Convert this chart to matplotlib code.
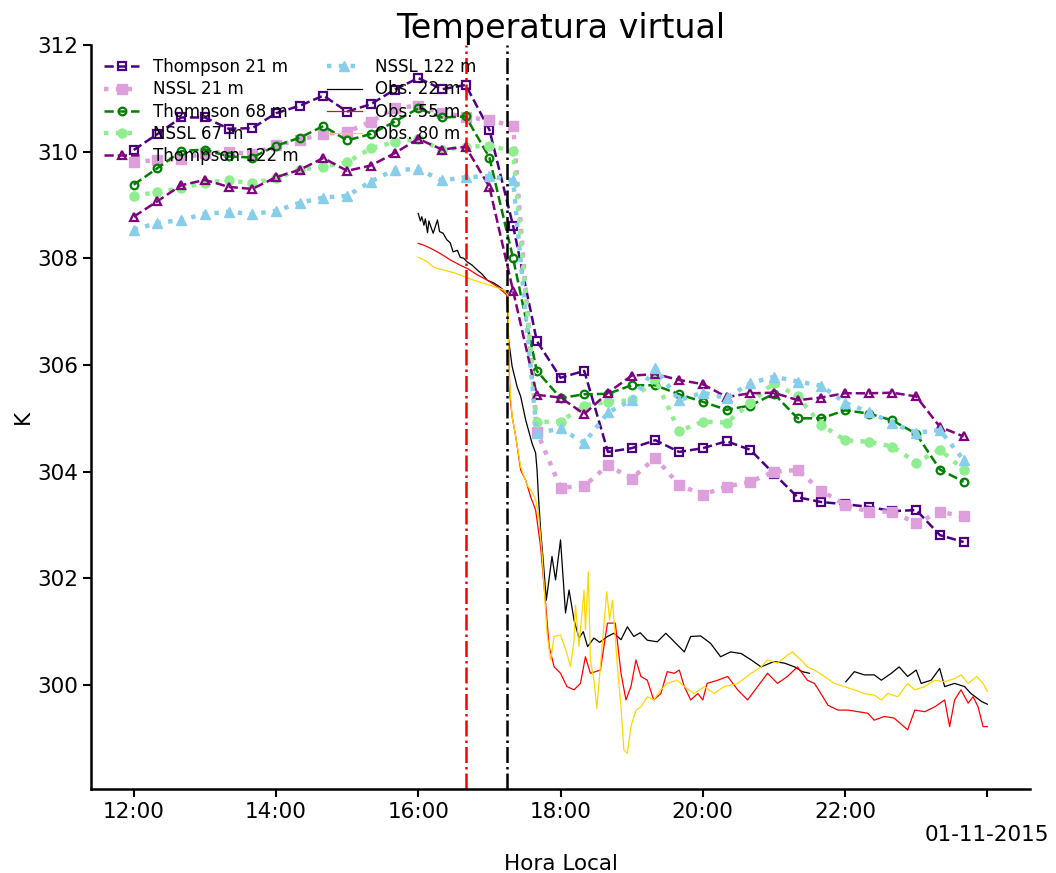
import matplotlib
matplotlib.use("Agg")
import matplotlib.pyplot as plt
import numpy as np

# ---- model output times (hours, local) : every 20 min from 12:00 to 23:40
model_times = ["12:00", "12:20", "12:40", "13:00", "13:20", "13:40", "14:00", "14:20", "14:40",
               "15:00", "15:20", "15:40", "16:00", "16:20", "16:40", "17:00", "17:20", "17:40",
               "18:00", "18:20", "18:40", "19:00", "19:20", "19:40", "20:00", "20:20", "20:40",
               "21:00", "21:20", "21:40", "22:00", "22:20", "22:40", "23:00", "23:20", "23:40"]

thompson_21 = [310.03, 310.33, 310.64, 310.64, 310.43, 310.44, 310.72, 310.86, 311.05,
               310.75, 310.89, 311.16, 311.38, 311.17, 311.25, 310.41, 308.61, 306.45,
               305.76, 305.89, 304.37, 304.44, 304.59, 304.37, 304.44, 304.57, 304.41,
               303.96, 303.52, 303.43, 303.39, 303.34, 303.26, 303.28, 302.81, 302.68]
nssl_21 = [309.81, 309.84, 309.86, 309.98, 309.99, 309.96, 310.12, 310.22, 310.33,
           310.37, 310.56, 310.82, 310.86, 310.73, 310.65, 310.59, 310.48, 304.75,
           303.70, 303.73, 304.12, 303.87, 304.26, 303.75, 303.57, 303.72, 303.81,
           304.00, 304.03, 303.64, 303.38, 303.25, 303.25, 303.03, 303.25, 303.16]
thompson_68 = [309.38, 309.69, 310.01, 310.04, 309.91, 309.89, 310.11, 310.26, 310.48,
               310.21, 310.33, 310.56, 310.81, 310.64, 310.66, 309.89, 308.00, 305.89,
               305.38, 305.45, 305.46, 305.62, 305.62, 305.45, 305.31, 305.16, 305.24,
               305.46, 305.00, 305.00, 305.15, 305.09, 304.96, 304.71, 304.04, 303.81]
nssl_67 = [309.16, 309.25, 309.31, 309.42, 309.46, 309.41, 309.50, 309.66, 309.72,
           309.80, 310.06, 310.18, 310.24, 310.03, 310.09, 310.11, 310.01, 304.93,
           304.94, 305.24, 305.31, 305.34, 305.73, 304.76, 304.94, 304.92, 305.28,
           305.67, 305.41, 304.88, 304.59, 304.56, 304.47, 304.17, 304.41, 304.04]
thompson_122 = [308.78, 309.07, 309.37, 309.47, 309.34, 309.30, 309.52, 309.66, 309.88,
                309.64, 309.74, 309.97, 310.24, 310.04, 310.09, 309.34, 307.39, 305.44,
                305.39, 305.08, 305.48, 305.80, 305.83, 305.72, 305.64, 305.40, 305.47,
                305.48, 305.34, 305.39, 305.47, 305.47, 305.48, 305.41, 304.84, 304.66]
nssl_122 = [308.54, 308.66, 308.72, 308.83, 308.87, 308.83, 308.89, 309.04, 309.14,
            309.17, 309.44, 309.66, 309.67, 309.46, 309.52, 309.54, 309.46, 304.72,
            304.81, 304.54, 305.11, 305.34, 305.94, 305.34, 305.48, 305.38, 305.66,
            305.78, 305.69, 305.61, 305.29, 305.12, 304.91, 304.73, 304.78, 304.22]

# ---- observations (time in decimal hours, value in K); NaN = missing data
obs22_t = [16.00, 16.03, 16.05, 16.08, 16.10, 16.13, 16.15, 16.17, 16.21, 16.27, 16.30, 16.35,
           16.40, 16.45, 16.49, 16.55, 16.59, 16.64, 16.69, 16.75, 16.83, 16.90, 16.97, 17.06,
           17.15, 17.25, 17.27, 17.32, 17.39, 17.44, 17.51, 17.60, 17.65, 17.67, 17.69, 17.72,
           17.76, 17.80, 17.88, 17.93, 18.00, 18.07, 18.12, 18.19, 18.26, 18.32, 18.38, 18.47,
           18.55, 18.66, 18.75, 18.85, 18.94, 19.03, 19.12, 19.22, 19.36, 19.48, 19.60, 19.74,
           19.83, 19.97, 20.11, 20.25, 20.39, 20.54, 20.68, 20.82, 21.00, 21.15, 21.29, 21.40,
           21.50, 21.75, 22.01, 22.13, 22.27, 22.41, 22.51, 22.65, 22.76, 22.88, 23.00, 23.07,
           23.21, 23.33, 23.40, 23.54, 23.68, 23.77, 23.92, 24.00]
obs22_v = [308.84, 308.70, 308.78, 308.62, 308.74, 308.48, 308.70, 308.62, 308.47, 308.72, 308.50, 308.47,
           308.35, 308.29, 308.12, 308.15, 308.02, 308.00, 307.93, 307.88, 307.78, 307.70, 307.59, 307.54,
           307.46, 307.35, 306.47, 305.97, 305.59, 305.41, 304.97, 304.53, 304.35, 304.03, 303.53, 302.91,
           302.28, 301.59, 302.41, 301.97, 302.72, 301.35, 301.78, 301.22, 300.88, 301.00, 300.72, 300.88,
           300.80, 300.91, 300.97, 300.85, 301.09, 300.91, 300.98, 300.84, 300.81, 300.97, 300.81, 300.62,
           300.91, 300.92, 300.78, 300.53, 300.62, 300.59, 300.47, 300.34, 300.44, 300.41, 300.34, 300.25,
           300.22, np.nan, 300.06, 300.25, 300.19, 300.19, 300.09, 300.22, 300.34, 300.16, 300.28, 300.03,
           300.09, 300.31, 299.97, 300.03, 299.97, 299.84, 299.69, 299.64]

obs55_t = [16.00, 16.07, 16.17, 16.31, 16.45, 16.59, 16.69, 16.83, 16.97, 17.11, 17.25, 17.29,
           17.32, 17.37, 17.44, 17.51, 17.58, 17.65, 17.72, 17.79, 17.84, 17.91, 18.00, 18.09,
           18.19, 18.28, 18.35, 18.42, 18.56, 18.66, 18.77, 18.85, 18.92, 18.99, 19.06, 19.13,
           19.22, 19.31, 19.41, 19.50, 19.60, 19.67, 19.74, 19.83, 19.93, 20.00, 20.06, 20.21,
           20.35, 20.49, 20.63, 20.77, 20.91, 21.05, 21.19, 21.33, 21.47, 21.57, 21.66, 21.76,
           21.90, 22.04, 22.18, 22.32, 22.41, 22.55, 22.69, 22.88, 22.98, 23.12, 23.26, 23.40,
           23.47, 23.54, 23.63, 23.73, 23.80, 23.87, 23.94, 24.00]
obs55_v = [308.28, 308.25, 308.19, 308.09, 307.97, 307.87, 307.81, 307.69, 307.59, 307.47, 307.31, 305.41,
           305.03, 304.66, 304.03, 303.84, 303.53, 303.28, 302.59, 301.53, 300.72, 300.34, 300.22, 299.97,
           299.91, 300.03, 300.53, 300.22, 300.28, 301.16, 301.16, 300.22, 299.72, 299.97, 300.47, 300.16,
           300.09, 299.72, 299.84, 300.25, 300.22, 300.28, 299.97, 299.72, 299.84, 299.72, 300.03, 300.09,
           300.16, 299.91, 299.72, 299.97, 300.22, 300.03, 300.16, 300.34, 300.09, 300.03, 299.84, 299.62,
           299.53, 299.53, 299.50, 299.47, 299.34, 299.41, 299.38, 299.16, 299.53, 299.50, 299.59, 299.72,
           299.22, 299.72, 299.91, 299.66, 299.78, 299.59, 299.22, 299.22]

obs80_t = [16.00, 16.12, 16.22, 16.36, 16.50, 16.64, 16.78, 16.92, 17.06, 17.20, 17.26, 17.28,
           17.32, 17.37, 17.44, 17.53, 17.60, 17.65, 17.69, 17.74, 17.81, 17.86, 17.91, 18.00,
           18.09, 18.14, 18.19, 18.21, 18.26, 18.33, 18.35, 18.39, 18.42, 18.47, 18.51, 18.56,
           18.65, 18.69, 18.73, 18.80, 18.85, 18.89, 18.94, 18.99, 19.06, 19.13, 19.22, 19.31,
           19.41, 19.50, 19.64, 19.74, 19.88, 20.02, 20.16, 20.30, 20.49, 20.68, 20.82, 20.91,
           21.05, 21.19, 21.26, 21.38, 21.47, 21.57, 21.71, 21.85, 21.99, 22.13, 22.27, 22.41,
           22.51, 22.60, 22.74, 22.88, 22.98, 23.12, 23.26, 23.40, 23.54, 23.63, 23.73, 23.85,
           23.94, 24.00]
obs80_v = [308.02, 307.94, 307.83, 307.78, 307.73, 307.66, 307.59, 307.53, 307.47, 307.41, 307.31, 305.72,
           305.03, 304.66, 304.09, 303.75, 303.62, 303.47, 303.22, 302.47, 300.97, 300.47, 300.91, 300.94,
           300.59, 300.34, 300.84, 301.50, 300.72, 301.78, 301.03, 302.12, 300.47, 300.09, 299.56, 300.34,
           301.75, 301.22, 301.59, 300.34, 299.59, 298.78, 298.72, 299.22, 299.53, 299.59, 299.78, 299.72,
           299.91, 300.03, 300.09, 299.97, 299.84, 299.97, 299.84, 299.97, 300.03, 300.22, 300.34, 300.47,
           300.41, 300.56, 300.62, 300.47, 300.34, 300.28, 300.16, 300.03, 299.97, 299.91, 299.84, 299.81,
           299.72, 299.84, 299.78, 300.03, 299.91, 299.97, 300.09, 300.06, 300.12, 300.19, 300.03, 300.16,
           300.03, 299.88]

event_times = [16 + 40 / 60, 17 + 15 / 60]   # red, black vertical lines
tick_hours = [12, 14, 16, 18, 20, 22, 24]
tick_labels = ["12:00", "14:00", "16:00", "18:00", "20:00", "22:00", "\n01-11-2015"]


def to_hours(s):
    h, m = s.split(":")
    return int(h) + int(m) / 60.0


mt = [to_hours(s) for s in model_times]

fig = plt.figure(figsize=(10.56, 8.73), dpi=100)
ax = fig.add_axes([0.0862, 0.0962, 0.8892, 0.8523])

ax.plot(mt, thompson_21, color="indigo", ls="--", lw=1.8, marker="s", ms=5.5,
        mfc="none", mew=1.6, label="Thompson 21 m")
ax.plot(mt, nssl_21, color="plum", ls=":", lw=3.2, marker="s", ms=6.5,
        label="NSSL 21 m")
ax.plot(mt, thompson_68, color="green", ls="--", lw=1.8, marker="o", ms=5.5,
        mfc="none", mew=1.6, label="Thompson 68 m")
ax.plot(mt, nssl_67, color="lightgreen", ls=":", lw=3.2, marker="o", ms=6.5,
        label="NSSL 67 m")
ax.plot(mt, thompson_122, color="purple", ls="--", lw=1.8, marker="^", ms=6,
        mfc="none", mew=1.6, label="Thompson 122 m")
ax.plot(mt, nssl_122, color="skyblue", ls=":", lw=3.2, marker="^", ms=7,
        label="NSSL 122 m")
ax.plot(obs22_t, obs22_v, color="black", lw=0.9, label="Obs. 22 m")
ax.plot(obs55_t, obs55_v, color="red", lw=0.9, label="Obs. 55 m")
ax.plot(obs80_t, obs80_v, color="gold", lw=0.9, label="Obs. 80 m")

ax.axvline(event_times[0], color="red", ls="-.", lw=1.8)
ax.axvline(event_times[1], color="black", ls="-.", lw=1.8)

ax.set_xlim(11.4, 24.6)
ax.set_ylim(298.05, 312.0)
ax.set_xticks(tick_hours)
ax.set_xticklabels(tick_labels)
ax.set_yticks([300, 302, 304, 306, 308, 310, 312])

for s in ["top", "right"]:
    ax.spines[s].set_visible(False)
for s in ["left", "bottom"]:
    ax.spines[s].set_linewidth(1.8)
ax.tick_params(axis="both", labelsize=15.5, width=1.5, length=6, direction="out")

ax.set_title("Temperatura virtual", fontsize=24, pad=4)
ax.set_xlabel("Hora Local", fontsize=15.5, labelpad=6)
ax.set_ylabel("K", fontsize=15.5, labelpad=3)

ax.legend(loc="upper left", ncol=2, frameon=False, fontsize=12,
          borderaxespad=0.4, handlelength=2.1, labelspacing=0.25, columnspacing=1.7)

fig.savefig("out.png", dpi=100)
